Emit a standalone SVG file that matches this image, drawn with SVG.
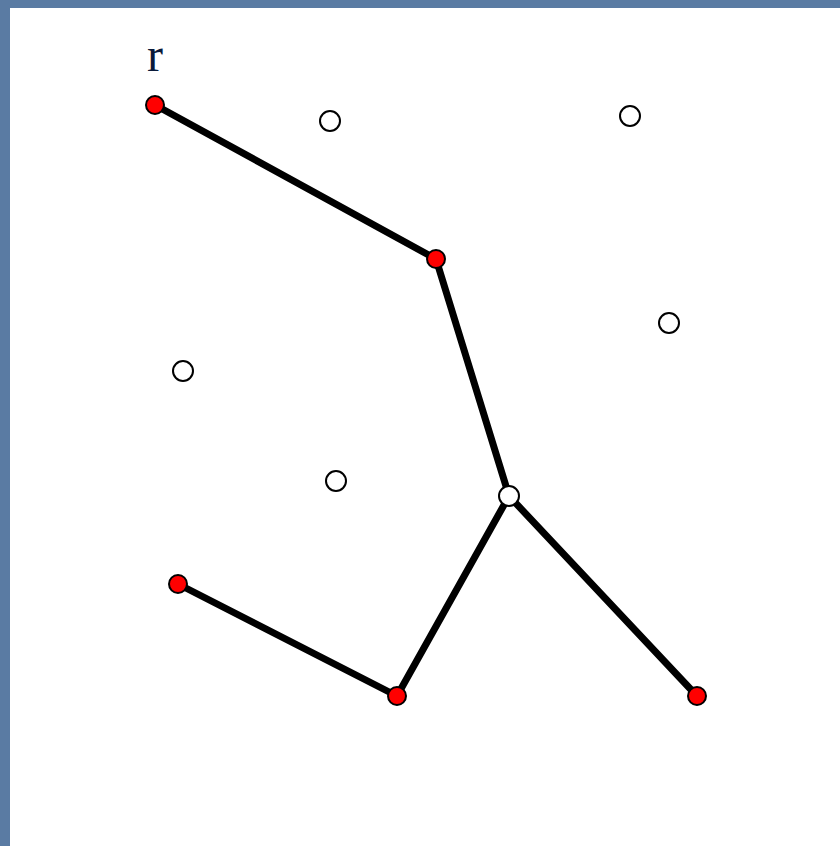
<svg xmlns="http://www.w3.org/2000/svg" width="840" height="846" viewBox="0 0 840 846">
<style>
.edge{stroke:#000;stroke-width:7;stroke-linecap:round}
.red{fill:#ff0000;stroke:#000;stroke-width:2}
.white{fill:#fff;stroke:#000;stroke-width:2}
.lbl{font-family:"Liberation Serif",serif;font-size:48px;fill:#0a1a3a;text-anchor:middle}
</style>
<rect x="0" y="0" width="840" height="846" fill="#5a7ba3"/>
<rect x="10" y="8" width="830" height="838" fill="#ffffff"/>
<g id="connectors">
<line class="edge" x1="155" y1="105" x2="436" y2="259"/>
<line class="edge" x1="436" y1="259" x2="509" y2="496"/>
<line class="edge" x1="509" y1="496" x2="397" y2="696"/>
<line class="edge" x1="397" y1="696" x2="178" y2="584"/>
<line class="edge" x1="509" y1="496" x2="697" y2="696"/>
</g>
<g id="r"><circle class="red" cx="155" cy="105" r="9"/><text class="lbl" x="155" y="71">r</text></g>
<g id="n1"><circle class="white" cx="330" cy="121" r="10"/></g>
<g id="n2"><circle class="white" cx="630" cy="116" r="10"/></g>
<g id="n3"><circle class="red" cx="436" cy="259" r="9"/></g>
<g id="n4"><circle class="white" cx="669" cy="323" r="10"/></g>
<g id="n5"><circle class="white" cx="183" cy="371" r="10"/></g>
<g id="n6"><circle class="white" cx="336" cy="481" r="10"/></g>
<g id="n7"><circle class="white" cx="509" cy="496" r="10"/></g>
<g id="n8"><circle class="red" cx="178" cy="584" r="9"/></g>
<g id="n9"><circle class="red" cx="397" cy="696" r="9"/></g>
<g id="n10"><circle class="red" cx="697" cy="696" r="9"/></g>
</svg>
